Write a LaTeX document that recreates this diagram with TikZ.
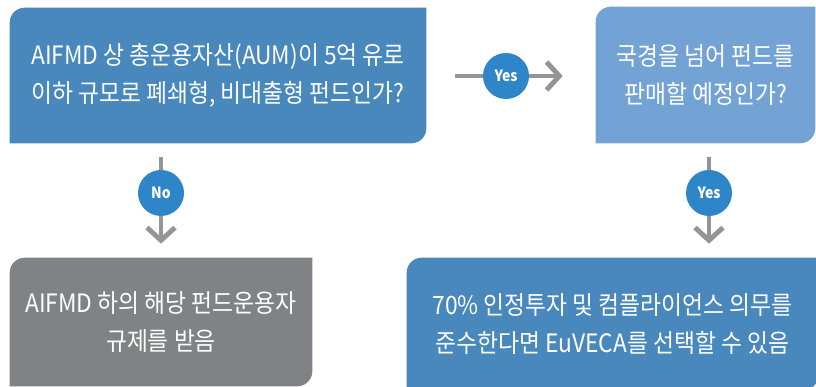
\documentclass[tikz,border=0pt]{standalone}
\usepackage{fontspec}
\setmainfont{Noto Sans CJK KR}[FakeStretch=0.9]
\usetikzlibrary{arrows.meta,backgrounds}
\definecolor{mainblue}{HTML}{4888BD}
\definecolor{lightblue}{HTML}{73A3D4}
\definecolor{boxgray}{HTML}{808285}
\definecolor{badgeblue}{HTML}{2E86C8}
\definecolor{arrowgray}{HTML}{939598}
% box with rounded top-left and bottom-right corners
\newcommand\tabfill[2]{%
 \fill[#2] (#1.south west) -- ([yshift=-0.375cm]#1.north west)
  arc[start angle=180,end angle=90,radius=0.375cm] -- (#1.north east)
  -- ([yshift=0.375cm]#1.south east)
  arc[start angle=0,end angle=-90,radius=0.375cm] -- cycle;}
\begin{document}
\begin{tikzpicture}[x=0.025cm,y=0.025cm,
 boxtext/.style={text=white,align=center,inner sep=0pt,font=\fontsize{18}{27}\selectfont},
 badge/.style={circle,fill=badgeblue,text=white,minimum size=1.15cm,inner sep=0pt,font=\bfseries\fontsize{11}{12}\selectfont},
 flow/.style={draw=arrowgray,line width=3.5pt,-{Straight Barb[length=3.2mm,width=7mm]}}]
 \useasboundingbox (0,0) rectangle (816,387);
 \node[boxtext,minimum width=10.4cm,minimum height=3.375cm] (ask) at (218,311.5)
  {AIFMD 상 총운용자산(AUM)이 5억 유로\\이하 규모로 폐쇄형, 비대출형 펀드인가?};
 \node[boxtext,minimum width=5.475cm,minimum height=3.4cm] (cross) at (705.5,312)
  {국경을 넘어 펀드를\\판매할 예정인가?};
 \node[boxtext,minimum width=7.55cm,minimum height=3.2cm] (rule) at (161,65)
  {AIFMD 하의 해당 펀드운용자\\규제를 받음};
 \node[boxtext,minimum width=10.275cm,minimum height=3.3cm] (euveca) at (612.5,63)
  {70\% 인정투자 및 컴플라이언스 의무를\\준수한다면 EuVECA를 선택할 수 있음};
 \node[badge] (yes1) at (506,311) {Yes};
 \node[badge] (no) at (161,194) {No};
 \node[badge] (yes2) at (709,194) {Yes};
 \begin{scope}[on background layer]
  \tabfill{ask}{mainblue}
  \tabfill{cross}{lightblue}
  \tabfill{rule}{boxgray}
  \tabfill{euveca}{mainblue}
  \draw[flow] ([xshift=0.725cm]yes1 -| ask.east) -- ([xshift=-0.825cm]yes1 -| cross.west);
  \draw[flow] ([yshift=-0.35cm]no |- ask.south) -- ([yshift=0.35cm]no |- rule.north);
  \draw[flow] ([yshift=-0.35cm]yes2 |- cross.south) -- ([yshift=0.35cm]yes2 |- euveca.north);
 \end{scope}
\end{tikzpicture}
\end{document}
